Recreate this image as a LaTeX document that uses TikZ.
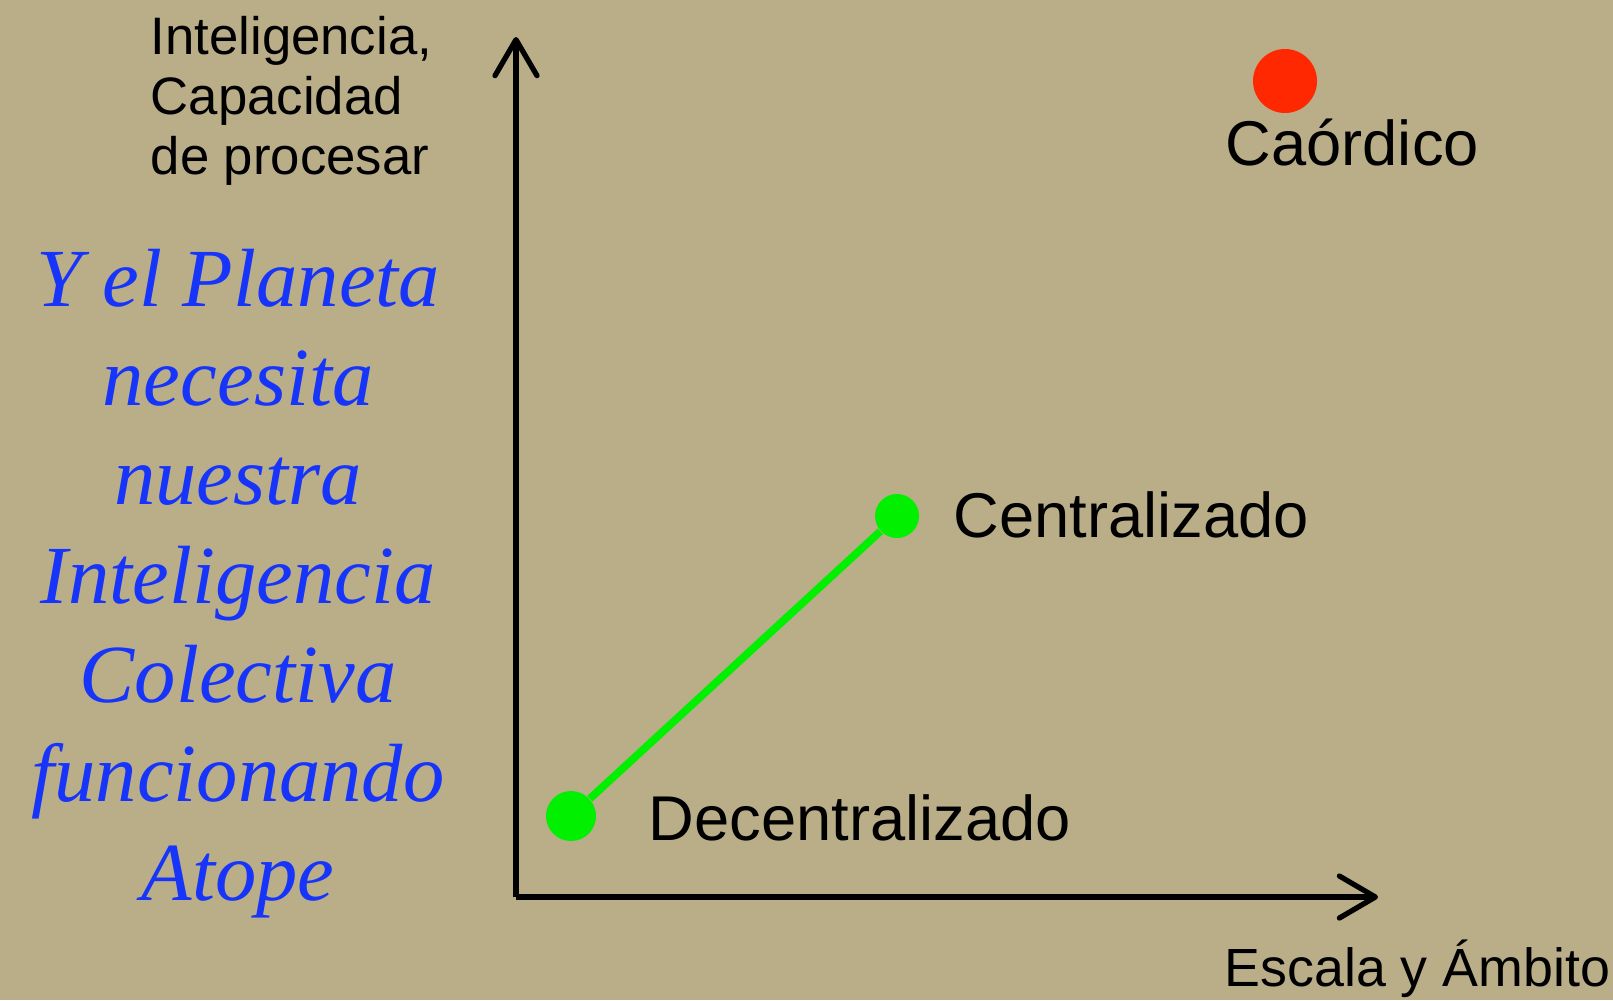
\documentclass[tikz,border=0pt]{standalone}
\usepackage{fontspec}
\setmainfont{Liberation Sans}
\newfontfamily\planetfont{Liberation Serif}
\usepackage{tikz}
\usetikzlibrary{arrows.meta}
\definecolor{paper}{RGB}{186,174,137}
\definecolor{planetblue}{RGB}{22,52,250}
\definecolor{dotgreen}{RGB}{0,240,0}
\definecolor{dotred}{RGB}{255,40,0}

\begin{document}
\begin{tikzpicture}[x=0.1mm,y=-0.1mm,
		axis/.style={line width=1.5pt, -{Straight Barb[length=3.6mm,width=4.2mm,line cap=round,line join=round]}},
		lbl/.style={inner sep=0pt, anchor=base west, font=\fontsize{18pt}{21pt}\selectfont},
		greendot/.style={circle, fill=dotgreen, inner sep=0pt}]
		%% Everything is in pixels of the original slide (y downwards)
		\useasboundingbox[fill=paper] (0,0) rectangle (1613,1000);

		%% Axes
		\coordinate (O) at (516,897);
		\coordinate (ytip) at (516,37);
		\coordinate (xtip) at (1378,897);
		\draw[axis] (O) -- (ytip);
		\draw[axis] (O) -- (xtip);
		\node[inner sep=0pt, anchor=base west, align=left,
			font=\fontsize{15pt}{17pt}\selectfont] (ylabel) at (150,174)
			{Inteligencia,\\Capacidad\\de procesar};
		\node[inner sep=0pt, anchor=base west,
			font=\fontsize{15.3pt}{17pt}\selectfont] (xlabel) at (1224,986) {Escala y Ámbito};

		%% Decentralizado -- Centralizado
		\node[greendot, minimum size=5mm] (dec) at (571,816) {};
		\node[greendot, minimum size=4.4mm] (cen) at (897,516) {};
		\draw[dotgreen, line width=2.2pt] (dec) -- (cen);
		\node[lbl] (declbl) at (648,840) {Decentralizado};
		\node[lbl] (cenlbl) at (953,537) {Centralizado};

		% Caordico
		\node[circle, fill=dotred, inner sep=0pt, minimum size=6.4mm] (cao) at (1285,81) {};
		\node[lbl] (caolbl) at (1225,165) {Caórdico};

		% Message on the left
		\node[inner sep=0pt, anchor=north, align=center, text=planetblue,
			font=\planetfont\itshape\fontsize{23.5pt}{28.2pt}\selectfont] (planet) at (238,248)
			{Y el Planeta\\necesita\\nuestra\\Inteligencia\\Colectiva\\funcionando\\Atope};
	\end{tikzpicture}
\end{document}
